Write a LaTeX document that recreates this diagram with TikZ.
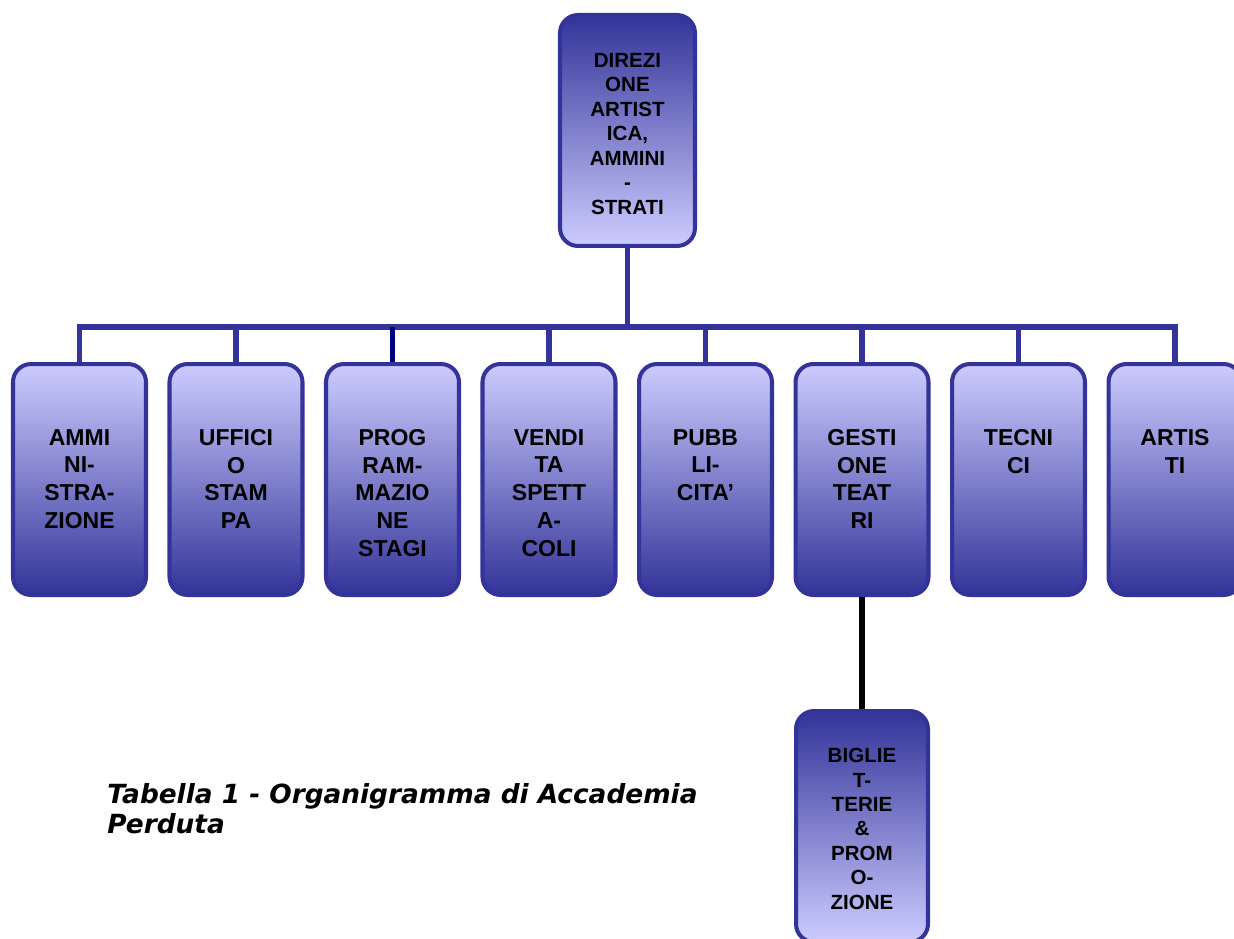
\documentclass[tikz,border=0pt]{standalone}
\usepackage{fontspec}
\newfontfamily\boxfont{Liberation Sans}
\newfontfamily\capfont{DejaVu Sans}
\definecolor{boxlight}{RGB}{204,204,255}
\definecolor{boxmid}{RGB}{160,160,224}
\definecolor{boxdark}{RGB}{51,51,153}
\definecolor{lineblue}{RGB}{51,51,153}
\definecolor{linenavy}{RGB}{0,0,128}
\usetikzlibrary{positioning}

\begin{document}
\begin{tikzpicture}[x=0.02cm,y=-0.02cm,
        every node/.style={inner sep=0pt},
        unitbox/.style={draw=boxdark,line width=2.3pt,rounded corners=0.36cm,
            minimum width=2.66cm,minimum height=4.62cm},
        headbox/.style={unitbox,minimum width=2.7cm,top color=boxdark,bottom color=boxlight},
        lowbox/.style={unitbox,top color=boxlight,middle color=boxmid,bottom color=boxdark},
        subbox/.style={unitbox,minimum width=2.64cm,top color=boxdark,bottom color=boxlight},
        bigtxt/.style={align=center,font=\boxfont\bfseries\fontsize{13.1}{15.8}\selectfont},
        smalltxt/.style={align=center,font=\boxfont\bfseries\fontsize{11.7}{13.9}\selectfont},
        captxt/.style={align=left,anchor=north west,font=\capfont\bfseries\itshape\fontsize{15}{17}\selectfont},
        link/.style={draw=lineblue,line width=3.4pt},
        blacklink/.style={draw=black,line width=3.8pt}
        ]
        \useasboundingbox (0,0) rectangle (1234,939);
        \clip (0,0) rectangle (1234,939);

        % the head
        \node[headbox] (dir) at (627.5,130.5) {};
        \node[smalltxt] (dirt) [below=0.8cm of dir.north] {DIREZI\\ONE\\ARTIST\\ICA,\\AMMINI\\-\\STRATI};

        % the units
        \node[lowbox] (amm) at (79.5,479.5) {};
        \node[lowbox] (uff) at (236,479.5) {};
        \node[lowbox] (prog) at (392.5,479.5) {};
        \node[lowbox] (vend) at (549,479.5) {};
        \node[lowbox] (pubb) at (705.5,479.5) {};
        \node[lowbox] (gest) at (862,479.5) {};
        \node[lowbox] (tecn) at (1018.5,479.5) {};
        \node[lowbox] (art) at (1175,479.5) {};

        \node[bigtxt] (ammt) [below=1.34cm of amm.north] {AMMI\\NI-\\STRA-\\ZIONE};
        \node[bigtxt] (ufft) [below=1.34cm of uff.north] {UFFICI\\O\\STAM\\PA};
        \node[bigtxt] (progt) [below=1.34cm of prog.north] {PROG\\RAM-\\MAZIO\\NE\\STAGI};
        \node[bigtxt] (vendt) [below=1.34cm of vend.north] {VENDI\\TA\\SPETT\\A-\\COLI};
        \node[bigtxt] (pubbt) [below=1.34cm of pubb.north] {PUBB\\LI-\\CITA’};
        \node[bigtxt] (gestt) [below=1.34cm of gest.north] {GESTI\\ONE\\TEAT\\RI};
        \node[bigtxt] (tecnt) [below=1.34cm of tecn.north] {TECNI\\CI};
        \node[bigtxt] (artt) [below=1.34cm of art.north] {ARTIS\\TI};

        % the ticket office
        \node[subbox] (bigl) at (862,826.5) {};
        \node[smalltxt] (biglt) [below=0.78cm of bigl.north] {BIGLIE\\T-\\TERIE\\\&\\PROM\\O-\\ZIONE};

        % the caption
        \node[captxt] (cap) at (107,783) {Tabella 1 - Organigramma di Accademia\\Perduta};

        % the edges
        \coordinate (bus) at (627.5,327);
        \draw[link] (dir.south) -- (bus);
        \draw[link] (amm.north) |- (bus);
        \draw[link,line join=miter] (art.north) |- (bus);
        \draw[link] (uff.north) -- (uff.north |- bus);
        \draw[link,draw=linenavy] (prog.north) -- (prog.north |- bus);
        \draw[link] (vend.north) -- (vend.north |- bus);
        \draw[link] (pubb.north) -- (pubb.north |- bus);
        \draw[link] (gest.north) -- (gest.north |- bus);
        \draw[link] (tecn.north) -- (tecn.north |- bus);
        \draw[blacklink] (gest.south) -- (bigl.north);
\end{tikzpicture}
\end{document}
